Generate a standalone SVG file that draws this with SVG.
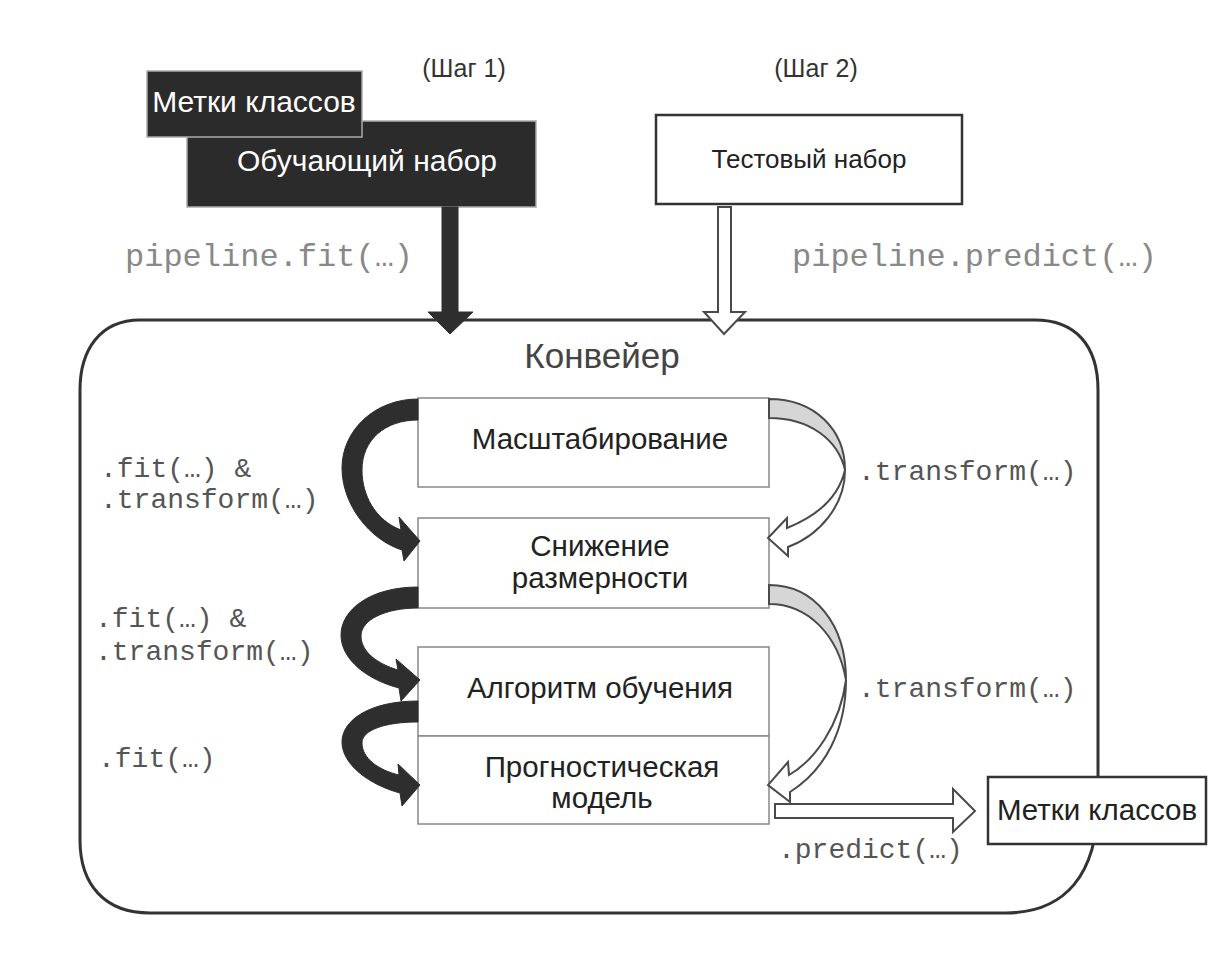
<svg xmlns="http://www.w3.org/2000/svg" width="1226" height="953" viewBox="0 0 1226 953">
<defs>
<style>
.sans{font-family:"Liberation Sans",Arial,sans-serif;}
.mono{font-family:"Liberation Mono","Courier New",monospace;}
.box{fill:#fff;stroke:#888;stroke-width:1.5;}
.dark{fill:#2b2b2b;stroke:#aaa;stroke-width:1.5;}
.lbl{font-size:29.5px;fill:#222;text-anchor:middle;}
.wlbl{font-size:30px;fill:#fff;text-anchor:middle;}
.code{font-size:28px;fill:#555;}
.bigcode{font-size:32px;fill:#888;}
.blk{fill:#2e2e2e;stroke:#2e2e2e;stroke-width:1;stroke-linejoin:round;}
.wht{fill:#fff;stroke:#4a4a4a;stroke-width:2;stroke-linejoin:miter;}
.gry{fill:#d6d6d6;stroke:#4a4a4a;stroke-width:2;}
</style>
</defs>
<rect width="1226" height="953" fill="#fff"/>

<!-- pipeline container -->
<g id="pipeline">
<path d="M140,320 H1035 C1075,320 1098,345 1098,390 V800 C1098,875 1065,913 1005,913 H150 C105,913 80,885 80,840 V390 C80,350 100,320 140,320 Z" fill="none" stroke="#333" stroke-width="3"/>
<text class="sans" x="602" y="368" font-size="35" fill="#444" text-anchor="middle">Конвейер</text>
</g>

<g id="step1"><text class="sans" x="464" y="77" font-size="25" fill="#333" text-anchor="middle">(Шаг 1)</text></g>
<g id="step2"><text class="sans" x="816" y="77" font-size="25" fill="#333" text-anchor="middle">(Шаг 2)</text></g>

<g id="train-set">
<rect class="dark" x="187" y="121" width="349" height="86"/>
<text class="sans wlbl" x="367" y="171">Обучающий набор</text>
</g>
<g id="train-labels">
<rect class="dark" x="147" y="71" width="215" height="66"/>
<text class="sans wlbl" x="254" y="112">Метки классов</text>
</g>

<g id="test-set">
<rect x="656" y="115" width="306" height="89" fill="#fff" stroke="#333" stroke-width="2.5"/>
<text class="sans" x="809" y="168" font-size="26" fill="#222" text-anchor="middle">Тестовый набор</text>
</g>

<g id="scaling">
<rect class="box" x="418" y="398" width="351" height="89"/>
<text class="sans lbl" x="600" y="449">Масштабирование</text>
</g>
<g id="dimred">
<rect class="box" x="418" y="518" width="351" height="90"/>
<text class="sans lbl" x="600" y="556">Снижение</text>
<text class="sans lbl" x="600" y="588">размерности</text>
</g>
<g id="algorithm">
<rect class="box" x="418" y="647" width="351" height="89"/>
<text class="sans lbl" x="600" y="698">Алгоритм обучения</text>
</g>
<g id="model">
<rect class="box" x="418" y="736" width="351" height="88"/>
<text class="sans lbl" x="602" y="777">Прогностическая</text>
<text class="sans lbl" x="602" y="808">модель</text>
</g>
<g id="out-labels">
<rect x="988" y="777" width="218" height="67" fill="#fff" stroke="#333" stroke-width="2.5"/>
<text class="sans lbl" x="1097" y="820">Метки классов</text>
</g>

<g id="connectors">
<!-- top arrows -->
<polygon class="blk" points="442,207 458,207 458,312 473,312 450,334 428,312 442,312"/>
<polygon class="wht" points="718,207 731,207 731,312 745,312 724,334 704,312 718,312"/>
<!-- left fit arrows -->
<path class="blk" d="M418,399 C375,399 342,430 342,468 C342,505 370,540 402,550 L404,561 L420,541 L399,517 L401,530 C375,520 362,495 362,470 C362,440 385,420 418,420 Z"/>
<path class="blk" d="M418,587 C370,587 341,610 341,635 C341,660 368,680 399,688 L401,701 L420,680 L396,659 L398,670 C378,664 361,652 361,636 C361,620 385,608 418,608 Z"/>
<path class="blk" d="M418,701 C370,701 342,720 342,742 C342,765 370,785 400,793 L402,806 L420,785 L398,764 L399,775 C378,770 362,758 362,743 C362,730 385,722 418,722 Z"/>
<!-- right transform arrows -->
<path class="gry" d="M769,399 C815,399 845,430 845,470 C838,440 810,418 769,418 Z"/>
<path class="wht" d="M845,470 C845,505 820,535 788,547 L788,556 L768,538 L787,518 L787,528 C812,518 838,500 845,470 Z"/>
<path class="gry" d="M769,585 C815,585 846,625 846,680 C838,635 808,604 769,604 Z"/>
<path class="wht" d="M846,680 C846,730 825,770 790,792 L790,802 L768,785 L788,762 L789,775 C815,760 840,725 846,680 Z"/>
<!-- predict arrow -->
<polygon class="wht" points="775,804 953,804 953,789 975,811 953,832 953,818 775,818"/>
</g>

<g id="code-labels">
<text class="mono bigcode" x="125" y="266">pipeline.fit(…)</text>
<text class="mono bigcode" x="792" y="266">pipeline.predict(…)</text>
<text class="mono code" x="100" y="477">.fit(…) &amp;</text>
<text class="mono code" x="100" y="508">.transform(…)</text>
<text class="mono code" x="95" y="627">.fit(…) &amp;</text>
<text class="mono code" x="95" y="660">.transform(…)</text>
<text class="mono code" x="98" y="767">.fit(…)</text>
<text class="mono code" x="858" y="480">.transform(…)</text>
<text class="mono code" x="858" y="697">.transform(…)</text>
<text class="mono code" x="778" y="858">.predict(…)</text>
</g>
</svg>
